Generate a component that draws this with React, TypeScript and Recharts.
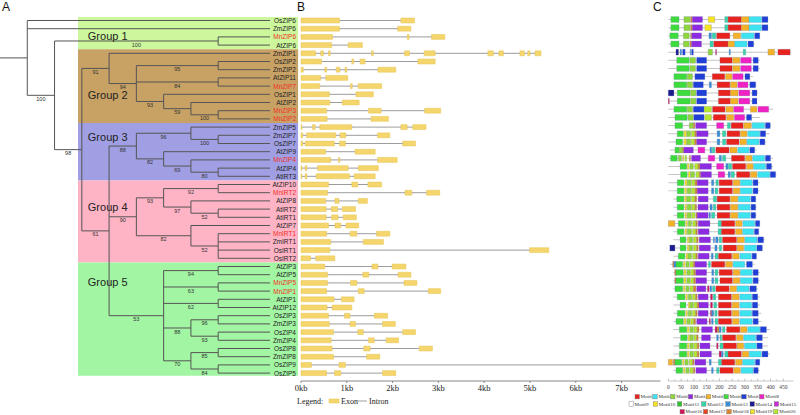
import React from "react";
import { ComposedChart, XAxis, YAxis, ReferenceArea, ReferenceLine, ReferenceDot } from "recharts";

// leaf order, top to bottom
const genes = [
  "OsZIP6", "ZmZIP6", "MnZIP6", "AtZIP6",
  "ZmZIP1", "OsZIP2", "ZmZIP2", "AtZIP11", "MnZIP7", "OsZIP1", "AtZIP2", "MnZIP3", "MnZIP2",
  "ZmZIP5", "ZmZIP7", "OsZIP7", "AtZIP9", "MnZIP4", "AtZIP4", "AtIRT3",
  "AtZIP10", "MnIRT2", "AtZIP8", "AtIRT2", "AtIRT1", "AtZIP7", "MnIRT1", "ZmIRT1", "OsIRT1", "OsIRT2",
  "AtZIP3", "AtZIP5", "MnZIP5", "MnZIP1", "AtZIP1", "AtZIP12", "OsZIP3", "ZmZIP3", "OsZIP4", "ZmZIP4",
  "OsZIP8", "ZmZIP8", "OsZIP9", "OsZIP5",
];

const groupNames = ["Group 1", "Group 2", "Group 3", "Group 4", "Group 5"];
const groupRows = [[0, 3], [4, 12], [13, 19], [20, 29], [30, 43]];

// d = node depth (cladogram level), s = bootstrap support
type TreeNode = { d: number; s?: number; c: (TreeNode | string)[] };
const tree: TreeNode = {
  d: 1,
  c: [
    "OsZIP6",
    "ZmZIP6",
    {
      d: 2, s: 100, c: [
        { d: 8, s: 100, c: ["MnZIP6", "AtZIP6"] },
        {
          d: 3, s: 98, c: [
            {
              d: 4, s: 91, c: [
                "ZmZIP1",
                {
                  d: 5, s: 94, c: [
                    { d: 8, s: 95, c: ["OsZIP2", "ZmZIP2"] },
                    { d: 8, s: 84, c: ["AtZIP11", "MnZIP7"] },
                    { d: 6, s: 93, c: ["OsZIP1", { d: 7, s: 59, c: ["AtZIP2", { d: 8, s: 100, c: ["MnZIP3", "MnZIP2"] }] }] },
                  ],
                },
              ],
            },
            {
              d: 4, s: 61, c: [
                {
                  d: 5, s: 88, c: [
                    { d: 7, s: 96, c: ["ZmZIP5", { d: 8, s: 100, c: ["ZmZIP7", "OsZIP7"] }] },
                    { d: 6, s: 82, c: ["AtZIP9", { d: 7, s: 69, c: ["MnZIP4", { d: 8, s: 80, c: ["AtZIP4", "AtIRT3"] }] }] },
                  ],
                },
                {
                  d: 5, s: 90, c: [
                    {
                      d: 6, s: 93, c: [
                        { d: 8, s: 92, c: ["AtZIP10", "MnIRT2"] },
                        { d: 7, s: 97, c: ["AtZIP8", { d: 8, s: 52, c: ["AtIRT2", "AtIRT1"] }] },
                      ],
                    },
                    { d: 7, s: 82, c: ["AtZIP7", { d: 8, s: 52, c: ["MnIRT1", "ZmIRT1", "OsIRT1", "OsIRT2"] }] },
                  ],
                },
                {
                  d: 6, s: 53, c: [
                    { d: 8, s: 94, c: ["AtZIP3", "AtZIP5"] },
                    { d: 8, s: 63, c: ["MnZIP5", "MnZIP1"] },
                    { d: 8, s: 62, c: ["AtZIP1", "AtZIP12"] },
                    { d: 7, s: 88, c: [{ d: 8, s: 96, c: ["OsZIP3", "ZmZIP3"] }, { d: 8, s: 93, c: ["OsZIP4", "ZmZIP4"] }] },
                    { d: 7, s: 70, c: [{ d: 8, s: 85, c: ["OsZIP8", "ZmZIP8"] }, { d: 8, s: 84, c: ["OsZIP9", "OsZIP5"] }] },
                  ],
                },
              ],
            },
          ],
        },
      ],
    },
  ],
};

// exon [start, end] in kb, one list per gene
const exons: number[][][] = [
  [[0, 0.84], [2.18, 2.48]],
  [[0, 0.84], [2.11, 2.4]],
  [[0, 0.69], [2.32, 2.36], [2.85, 3.14]],
  [[0, 0.67], [1.03, 1.34]],
  [[0, 0.32], [0.43, 0.49], [0.6, 0.64], [1.54, 1.58], [2.26, 2.37], [2.69, 2.93], [4.08, 4.2], [4.32, 4.42], [4.78, 4.88], [4.95, 5.0], [5.11, 5.24]],
  [[0, 0.45], [1.11, 1.15], [1.29, 1.4], [2.55, 2.93]],
  [[0, 0.05], [0.52, 0.56], [0.77, 0.85], [0.96, 1.0], [1.68, 2.07]],
  [[0, 0.43], [0.54, 1.02]],
  [[0, 0.41], [1.08, 1.12], [1.25, 1.76]],
  [[0, 0.62], [1.2, 1.58]],
  [[0, 0.63], [0.9, 1.27]],
  [[0, 0.56], [1.47, 1.75], [2.7, 3.05]],
  [[0, 0.57], [1.53, 1.91]],
  [[0, 0.02], [0.25, 0.31], [0.41, 1.11], [2.18, 2.32], [2.44, 2.73]],
  [[0, 0.04], [0.12, 0.76], [0.85, 0.98], [1.67, 1.94]],
  [[0, 0.04], [0.09, 0.73], [0.84, 0.97], [2.22, 2.5]],
  [[0, 0.54], [1.18, 1.62]],
  [[0, 0.65], [0.82, 0.85], [1.67, 2.1]],
  [[0, 0.02], [0.09, 0.13], [0.36, 1.03], [1.25, 1.69]],
  [[0, 0.02], [0.09, 0.13], [0.33, 1.06], [1.16, 1.62]],
  [[0, 0.6], [1.11, 1.24], [1.46, 1.76]],
  [[0, 0.58], [2.27, 2.42], [2.74, 3.03]],
  [[0, 0.54], [0.74, 0.83], [1.25, 1.45]],
  [[0, 0.55], [0.66, 0.8], [0.9, 1.19]],
  [[0, 0.55], [0.67, 0.81], [0.92, 1.21]],
  [[0, 0.6], [0.74, 0.87], [0.98, 1.26]],
  [[0, 0.56], [1.07, 1.22], [1.65, 1.94]],
  [[0, 0.65], [1.36, 1.8]],
  [[0, 0.63], [4.99, 5.41]],
  [[0, 0.21], [0.32, 0.74]],
  [[0, 0.52], [1.55, 1.68], [1.99, 2.29]],
  [[0, 0.58], [1.35, 1.48], [2.12, 2.4]],
  [[0, 0.58], [1.08, 1.22], [2.25, 2.53]],
  [[0, 0.56], [1.25, 1.38], [2.78, 3.05]],
  [[0, 0.72], [0.88, 1.16]],
  [[0, 0.57], [0.68, 1.11]],
  [[0, 0.6], [0.95, 1.07], [1.6, 1.89]],
  [[0, 0.62], [1.07, 1.19], [1.78, 2.06]],
  [[0, 0.71], [1.24, 1.36], [2.22, 2.5]],
  [[0, 0.66], [1.47, 1.6], [1.86, 2.13]],
  [[0, 0.68], [1.37, 1.51], [2.58, 2.87]],
  [[0, 0.71], [1.43, 1.72]],
  [[0, 0.23], [0.83, 0.97], [7.45, 7.75]],
  [[0, 0.56], [0.73, 0.87], [1.78, 2.07]],
];
const kbTicks = [0, 1, 2, 3, 4, 5, 6, 7];

// protein extent shown in panel C (aa)
const proteinSpans = [
  [0, 390], [0, 390], [0, 358], [0, 338],
  [0, 481], [0, 358], [0, 358], [20, 332], [20, 345], [0, 351], [0, 345], [0, 410], [0, 358],
  [0, 403], [0, 397], [0, 384], [6, 345], [0, 410], [0, 410], [0, 423],
  [0, 358], [0, 358], [20, 345], [20, 345], [20, 345], [0, 358], [20, 351], [20, 377], [6, 371], [20, 345],
  [6, 338], [20, 358], [20, 358], [20, 351], [20, 358], [20, 358], [20, 364], [20, 364], [20, 397], [20, 390],
  [20, 390], [20, 397], [0, 358], [20, 358],
];

// [motif, start, end] in aa
const motifs: number[][][] = [
  [[6, 10, 42], [3, 61, 85], [18, 87, 94], [4, 94, 134], [10, 156, 182], [12, 221, 233], [1, 234, 286], [5, 286, 316], [2, 316, 365], [7, 367, 390]],
  [[6, 10, 42], [3, 61, 85], [18, 87, 94], [4, 94, 134], [10, 143, 169], [12, 221, 233], [1, 234, 286], [5, 286, 316], [2, 316, 365], [7, 367, 390]],
  [[6, 6, 39], [3, 59, 82], [18, 87, 92], [4, 92, 130], [13, 159, 169], [12, 172, 186], [1, 189, 241], [5, 254, 283], [2, 286, 335], [7, 338, 358]],
  [[6, 10, 42], [3, 59, 82], [18, 85, 91], [4, 91, 130], [12, 163, 176], [1, 178, 234], [5, 234, 260], [2, 260, 308], [7, 312, 334]],
  [[14, 30, 40], [13, 46, 52], [7, 56, 66], [13, 85, 88], [7, 91, 98], [3, 156, 173], [16, 185, 189], [13, 238, 243], [12, 293, 303], [5, 390, 416], [1, 429, 477]],
  [[6, 33, 82], [3, 85, 107], [7, 111, 150], [1, 202, 250], [5, 252, 280], [8, 283, 325], [7, 332, 352]],
  [[6, 33, 82], [3, 85, 107], [7, 111, 150], [1, 202, 250], [5, 252, 280], [8, 283, 325], [7, 332, 352]],
  [[6, 22, 72], [3, 74, 95], [7, 104, 143], [1, 172, 221], [5, 224, 250], [8, 252, 293], [7, 300, 319]],
  [[6, 22, 72], [3, 74, 95], [7, 98, 137], [13, 160, 169], [1, 191, 241], [5, 243, 269], [8, 272, 312], [7, 319, 342]],
  [[14, 0, 22], [6, 35, 85], [3, 87, 108], [7, 111, 150], [1, 196, 243], [5, 243, 273], [8, 276, 319], [7, 328, 347]],
  [[16, 0, 4], [6, 35, 85], [3, 87, 108], [7, 111, 150], [1, 196, 243], [5, 243, 273], [8, 276, 319], [7, 328, 347]],
  [[6, 22, 72], [3, 74, 95], [7, 98, 140], [20, 140, 169], [1, 173, 222], [5, 225, 254], [8, 256, 295], [5, 321, 347], [8, 351, 393]],
  [[6, 26, 74], [3, 77, 98], [7, 100, 140], [20, 143, 169], [1, 176, 225], [5, 228, 256], [8, 259, 299], [7, 306, 326]],
  [[6, 26, 56], [3, 82, 98], [18, 98, 104], [4, 107, 150], [8, 189, 217], [12, 231, 243], [1, 246, 293], [5, 295, 325], [2, 328, 377], [7, 380, 399]],
  [[6, 35, 59], [19, 61, 72], [3, 72, 87], [20, 90, 104], [18, 104, 111], [4, 111, 156], [13, 191, 202], [12, 212, 225], [1, 230, 280], [5, 282, 308], [2, 311, 358], [7, 360, 381]],
  [[6, 30, 56], [19, 61, 72], [3, 72, 87], [20, 90, 103], [18, 103, 111], [4, 111, 150], [13, 191, 202], [12, 212, 225], [1, 228, 277], [5, 280, 306], [2, 308, 355], [7, 358, 378]],
  [[6, 26, 43], [3, 43, 56], [18, 56, 61], [4, 61, 98], [8, 116, 143], [13, 163, 170], [12, 172, 182], [1, 186, 238], [5, 241, 269], [2, 272, 316], [7, 319, 338]],
  [[6, 9, 35], [3, 39, 52], [19, 56, 61], [20, 65, 72], [18, 82, 87], [4, 91, 126], [8, 156, 182], [13, 199, 208], [12, 212, 225], [1, 247, 299], [5, 302, 328], [2, 330, 377], [7, 380, 400]],
  [[6, 46, 72], [19, 74, 82], [3, 85, 98], [20, 103, 117], [18, 117, 124], [4, 124, 169], [8, 189, 217], [13, 225, 234], [12, 235, 248], [1, 251, 303], [5, 306, 332], [2, 334, 381], [7, 384, 404]],
  [[6, 48, 74], [19, 78, 87], [3, 87, 103], [20, 108, 121], [18, 121, 127], [4, 127, 169], [8, 195, 221], [13, 234, 243], [12, 246, 259], [1, 267, 319], [5, 321, 347], [2, 350, 397], [7, 399, 420]],
  [[6, 35, 61], [19, 65, 74], [3, 74, 90], [20, 92, 105], [18, 105, 113], [4, 113, 156], [13, 169, 178], [12, 186, 196], [1, 199, 251], [5, 254, 280], [2, 282, 329], [7, 332, 351]],
  [[6, 35, 61], [19, 64, 72], [3, 74, 90], [20, 92, 105], [18, 105, 113], [4, 113, 156], [13, 169, 178], [12, 183, 194], [1, 199, 251], [5, 254, 280], [2, 282, 329], [7, 332, 351]],
  [[6, 33, 61], [19, 64, 72], [3, 72, 88], [20, 91, 104], [18, 104, 111], [4, 117, 156], [12, 176, 189], [1, 191, 241], [5, 243, 272], [2, 274, 321], [7, 324, 342]],
  [[6, 35, 61], [19, 65, 72], [3, 74, 90], [20, 92, 105], [18, 105, 111], [4, 116, 156], [13, 163, 172], [12, 176, 186], [1, 191, 241], [5, 243, 272], [2, 274, 321], [7, 324, 342]],
  [[6, 35, 61], [19, 65, 72], [3, 74, 90], [20, 92, 105], [18, 108, 113], [4, 113, 156], [13, 159, 165], [12, 169, 182], [1, 191, 241], [5, 243, 272], [2, 274, 321], [7, 324, 342]],
  [[5, 0, 26], [6, 39, 65], [19, 68, 75], [3, 78, 91], [20, 95, 108], [18, 108, 114], [4, 117, 163], [12, 195, 208], [1, 208, 260], [5, 263, 289], [2, 292, 338], [7, 341, 358]],
  [[6, 35, 61], [19, 65, 72], [3, 74, 91], [20, 95, 108], [18, 108, 114], [4, 117, 160], [12, 195, 208], [1, 208, 260], [5, 263, 289], [2, 291, 334], [7, 337, 354]],
  [[6, 46, 69], [19, 74, 82], [3, 82, 95], [20, 98, 111], [18, 111, 117], [4, 121, 165], [13, 176, 181], [13, 185, 195], [12, 199, 209], [1, 212, 267], [5, 269, 298], [2, 300, 347], [7, 350, 373]],
  [[14, 6, 26], [6, 46, 69], [19, 74, 82], [3, 82, 95], [20, 98, 111], [18, 111, 117], [4, 121, 165], [13, 182, 191], [12, 199, 209], [1, 215, 267], [5, 269, 295], [2, 298, 345], [7, 347, 368]],
  [[6, 39, 65], [19, 69, 77], [3, 77, 91], [20, 95, 108], [18, 108, 114], [4, 117, 160], [13, 168, 176], [12, 183, 194], [1, 196, 248], [5, 251, 277], [2, 280, 325], [7, 328, 345]],
  [[18, 17, 22], [13, 22, 30], [6, 30, 56], [19, 59, 66], [3, 69, 82], [20, 85, 98], [18, 98, 104], [4, 104, 150], [12, 157, 165], [1, 169, 221], [5, 224, 251], [2, 254, 299], [7, 306, 329]],
  [[18, 25, 30], [6, 30, 59], [19, 61, 69], [3, 72, 85], [20, 87, 100], [18, 100, 107], [4, 108, 150], [13, 170, 178], [12, 183, 194], [1, 199, 251], [5, 254, 280], [2, 282, 329], [7, 332, 352]],
  [[18, 25, 30], [6, 30, 59], [19, 61, 69], [3, 72, 85], [20, 87, 100], [18, 100, 107], [4, 108, 150], [13, 170, 178], [12, 183, 194], [1, 202, 251], [5, 254, 280], [2, 282, 329], [7, 332, 352]],
  [[6, 26, 56], [19, 59, 66], [3, 69, 82], [20, 85, 98], [18, 98, 108], [4, 111, 147], [16, 153, 160], [13, 163, 170], [12, 173, 183], [1, 186, 238], [5, 241, 267], [2, 269, 316], [7, 319, 345]],
  [[6, 35, 65], [19, 68, 75], [3, 78, 91], [20, 94, 107], [18, 107, 113], [4, 117, 156], [16, 165, 173], [12, 176, 186], [1, 196, 247], [5, 250, 277], [2, 280, 326], [7, 329, 350]],
  [[6, 46, 69], [19, 78, 85], [3, 85, 98], [20, 100, 113], [18, 113, 120], [4, 120, 157], [16, 165, 173], [12, 178, 189], [1, 196, 247], [5, 250, 277], [2, 280, 326], [7, 329, 350]],
  [[6, 35, 65], [19, 68, 75], [3, 78, 91], [20, 94, 107], [18, 107, 113], [4, 117, 156], [16, 165, 170], [13, 170, 178], [12, 182, 191], [1, 196, 247], [5, 250, 277], [2, 280, 326], [7, 329, 352]],
  [[6, 30, 59], [19, 61, 69], [3, 72, 85], [20, 87, 100], [18, 100, 107], [4, 111, 152], [16, 160, 165], [13, 169, 176], [12, 183, 194], [1, 196, 248], [5, 251, 277], [2, 280, 329], [7, 332, 352]],
  [[6, 43, 72], [19, 74, 82], [3, 85, 98], [20, 100, 113], [18, 113, 120], [4, 130, 173], [16, 183, 191], [18, 191, 199], [13, 199, 207], [12, 212, 222], [1, 228, 280], [5, 282, 308], [2, 311, 358], [7, 360, 384]],
  [[6, 48, 74], [19, 77, 85], [3, 85, 98], [20, 100, 111], [18, 111, 117], [4, 130, 165], [13, 189, 196], [12, 202, 209], [1, 212, 264], [5, 267, 293], [2, 295, 342], [7, 345, 368]],
  [[6, 43, 72], [19, 74, 82], [3, 85, 98], [20, 100, 113], [18, 113, 120], [4, 124, 163], [16, 189, 195], [12, 202, 215], [1, 215, 267], [5, 269, 295], [2, 298, 345], [7, 347, 368]],
  [[6, 43, 72], [19, 74, 82], [3, 85, 98], [20, 100, 113], [18, 113, 120], [4, 124, 169], [16, 199, 208], [13, 208, 215], [12, 221, 234], [1, 234, 286], [5, 289, 315], [2, 317, 364], [7, 367, 390]],
  [[5, 0, 17], [18, 20, 26], [6, 26, 52], [19, 55, 62], [3, 65, 78], [20, 82, 95], [18, 95, 101], [4, 104, 147], [13, 160, 168], [12, 196, 209], [1, 209, 260], [5, 263, 289], [2, 291, 338], [7, 341, 358]],
  [[6, 30, 56], [19, 59, 66], [3, 69, 82], [20, 85, 98], [18, 98, 104], [4, 108, 150], [13, 169, 176], [12, 189, 199], [1, 202, 254], [5, 256, 282], [2, 285, 332], [7, 334, 352]],
];
const aaTicks = [0, 25, 50, 75, 100, 125, 150, 175, 200, 225, 250, 275, 300, 325, 350, 375, 400, 425, 450];
const legendRows = [[1, 2, 3, 4, 5, 6, 7, 8], [9, 10, 11, 12, 13, 14, 15], [16, 17, 18, 19, 20]];

const motifColors: Record<number, string> = {
  1: "#e8231e", 2: "#3de3ef", 3: "#8fd63c", 4: "#8c2be0", 5: "#f3b228",
  6: "#3ddc3d", 7: "#1f3fd6", 8: "#ef22c4", 9: "#ffffff", 10: "#f7e224",
  11: "#30c030", 12: "#36d4a6", 13: "#3a8ed6", 14: "#1b1b8f", 15: "#c72ed6",
  16: "#d0145a", 17: "#e8421c", 18: "#d88430", 19: "#f2e030", 20: "#b6e630",
};
const groupColors = ["#ccf79c", "#c8a165", "#a09fe3", "#ffb4c6", "#a2f5a2"];
const groupLabelRows = [1.85, 9.1, 14.2, 22.7, 31.9];

const SANS = "Arial, 'Liberation Sans', sans-serif";
const SERIF = "'Times New Roman', 'Liberation Serif', serif";
const LEAF_D = 9.9;

function layoutTree(root: TreeNode) {
  const lines: { x1: number; y1: number; x2: number; y2: number }[] = [];
  const labels: { x: number; y: number; s: number }[] = [];
  const place = (n: TreeNode | string): { y: number; d: number } => {
    if (typeof n === "string") return { y: genes.indexOf(n), d: LEAF_D };
    const kids = n.c.map(place);
    const top = kids[0].y;
    const bottom = kids[kids.length - 1].y;
    lines.push({ x1: n.d, y1: top, x2: n.d, y2: bottom });
    kids.forEach((k, i) => {
      lines.push({ x1: n.d, y1: k.y, x2: k.d, y2: k.y });
      const child = n.c[i];
      if (typeof child !== "string" && child.s != null) labels.push({ x: (n.d + k.d) / 2, y: k.y, s: child.s });
    });
    return { y: (top + bottom) / 2, d: n.d };
  };
  const r = place(root);
  lines.push({ x1: 0, y1: r.y, x2: root.d, y2: r.y });
  return { lines, labels };
}

function TreePanel() {
  const { lines, labels } = React.useMemo(() => layoutTree(tree), []);
  return (
    <ComposedChart width={300} height={415} margin={{ top: 0, right: 0, bottom: 0, left: 0 }}>
      <XAxis type="number" dataKey="x" hide domain={[0, 11]} allowDataOverflow />
      <YAxis type="number" dataKey="y" hide domain={[-2.5, 48.11]} reversed allowDataOverflow />
      {groupRows.map(([from, to], i) => (
        <ReferenceArea
          key={`g${i}`}
          x1={2.86}
          x2={10.93}
          y1={i === 0 ? from - 0.43 : from - 0.5}
          y2={i === groupRows.length - 1 ? to + 0.32 : to + 0.5}
          fill={groupColors[i]}
          fillOpacity={1}
          stroke="none"
          ifOverflow="visible"
        />
      ))}
      {groupNames.map((g, i) => (
        <ReferenceDot
          key={`gl${i}`}
          x={3.22}
          y={groupLabelRows[i]}
          r={0}
          shape={(p: any) => (
            <text x={p.cx} y={p.cy} dominantBaseline="central" fontSize={11} fontFamily={SANS} fill="#222">
              {g}
            </text>
          )}
        />
      ))}
      {lines.map((l, i) => (
        <ReferenceLine
          key={`b${i}`}
          segment={[{ x: l.x1, y: l.y1 }, { x: l.x2, y: l.y2 }]}
          stroke="#555"
          strokeWidth={1}
          ifOverflow="visible"
        />
      ))}
      {labels.map((l, i) => (
        <ReferenceDot
          key={`s${i}`}
          x={l.x}
          y={l.y}
          r={0}
          shape={(p: any) => (
            <text x={p.cx} y={p.cy + 5.6} textAnchor="middle" fontSize={5.5} fontFamily={SANS} fill="#333">
              {l.s}
            </text>
          )}
        />
      ))}
      {genes.map((g, i) => (
        <ReferenceDot
          key={`n${g}`}
          x={LEAF_D}
          y={i}
          r={0}
          shape={(p: any) => (
            <text
              x={p.cx + 26}
              y={p.cy}
              textAnchor="end"
              dominantBaseline="central"
              fontSize={6.5}
              fontFamily={SANS}
              fill={g.startsWith("Mn") ? "#f0301f" : "#222"}
            >
              {g}
            </text>
          )}
        />
      ))}
    </ComposedChart>
  );
}

const KbTick = (p: any) => (
  <text x={p.x} y={p.y + 7} textAnchor="middle" fontSize={8.5} fontFamily={SERIF} fill="#222">
    {`${p.payload.value}kb`}
  </text>
);

function GenePanel() {
  return (
    <ComposedChart width={380} height={415} margin={{ top: 0, right: 9.5, bottom: 0, left: 11 }}>
      <XAxis
        type="number"
        dataKey="x"
        domain={[0, 7.85]}
        ticks={kbTicks}
        interval={0}
        height={34}
        tickSize={2}
        tickMargin={1}
        axisLine={{ stroke: "#888" }}
        tickLine={{ stroke: "#888" }}
        tick={<KbTick />}
        allowDataOverflow
      />
      <YAxis type="number" dataKey="y" hide domain={[-2.5, 43.96]} reversed allowDataOverflow />
      {exons.map((ex, i) =>
        ex.slice(1).map((e, k) => (
          <ReferenceLine
            key={`i${i}-${k}`}
            segment={[{ x: ex[k][1], y: i }, { x: e[0], y: i }]}
            stroke="#9c9c9c"
            strokeWidth={1}
          />
        ))
      )}
      {exons.map((ex, i) =>
        ex.map((e, k) => (
          <ReferenceArea
            key={`e${i}-${k}`}
            x1={e[0]}
            x2={e[1]}
            y1={i - 0.3}
            y2={i + 0.3}
            fill="#f5d66c"
            fillOpacity={1}
            stroke="#e7c452"
            strokeWidth={0.5}
          />
        ))
      )}
    </ComposedChart>
  );
}

const AaTick = (p: any) => {
  const v = p.payload.value;
  const major = v % 50 === 0;
  return (
    <g>
      <line x1={p.x} x2={p.x} y1={p.y - (major ? 2.5 : 1.5)} y2={p.y} stroke="#999" strokeWidth={0.6} />
      {major && (
        <text x={p.x} y={p.y + 7.6} textAnchor="middle" fontSize={5.5} fontFamily={SERIF} fill="#444">
          {v}
        </text>
      )}
    </g>
  );
};

function MotifPanel() {
  return (
    <ComposedChart width={140} height={415} margin={{ top: 0, right: 6.5, bottom: 0, left: 8.3 }}>
      <XAxis
        type="number"
        dataKey="x"
        domain={[0, 490]}
        ticks={aaTicks}
        interval={0}
        height={34}
        tickSize={0}
        tickMargin={0}
        axisLine={{ stroke: "#c8c8c8" }}
        tickLine={false}
        tick={<AaTick />}
        allowDataOverflow
      />
      <YAxis type="number" dataKey="y" hide domain={[-2.39, 44.3]} reversed allowDataOverflow />
      {proteinSpans.map((s, i) => (
        <ReferenceArea key={`p${i}`} x1={s[0]} x2={s[1]} y1={i - 0.06} y2={i + 0.06} fill="#c4c4c4" fillOpacity={1} stroke="none" />
      ))}
      {motifs.map((row, i) =>
        row.map((m, k) => (
          <ReferenceArea
            key={`m${i}-${k}`}
            x1={m[1]}
            x2={m[2]}
            y1={i - 0.36}
            y2={i + 0.36}
            fill={motifColors[m[0]]}
            fillOpacity={1}
            stroke="#6a78a8"
            strokeOpacity={0.45}
            strokeWidth={0.5}
          />
        ))
      )}
    </ComposedChart>
  );
}

export default function App() {
  // legend rows: [start x, step, y]
  const legendLayout = [[635, 17.8, 396.7], [629, 24.2, 404], [680, 23.4, 411.7]];
  return (
    <div style={{ position: "absolute", left: 0, top: 0, width: 800, height: 415, background: "#fff", overflow: "hidden" }}>
      <div style={{ position: "absolute", left: 0, top: 0 }}>
        <TreePanel />
      </div>
      <div style={{ position: "absolute", left: 290, top: 0 }}>
        <GenePanel />
      </div>
      <div style={{ position: "absolute", left: 660, top: 0 }}>
        <MotifPanel />
      </div>
      <svg width={800} height={415} style={{ position: "absolute", left: 0, top: 0, pointerEvents: "none" }}>
        <text x={2} y={11} fontSize={12} fontFamily={SANS} fill="#111">A</text>
        <text x={297} y={11} fontSize={12} fontFamily={SANS} fill="#111">B</text>
        <text x={653} y={11} fontSize={12} fontFamily={SANS} fill="#111">C</text>

        <text x={297} y={403.5} fontSize={8} fontFamily={SERIF} fill="#222">Legend:</text>
        <rect x={329} y={399} width={10} height={4} fill="#f5d66c" stroke="#e7c452" strokeWidth={0.5} />
        <text x={341} y={403.5} fontSize={8} fontFamily={SERIF} fill="#222">Exon</text>
        <line x1={356} x2={367} y1={401} y2={401} stroke="#9c9c9c" strokeWidth={1} />
        <text x={369} y={403.5} fontSize={8} fontFamily={SERIF} fill="#222">Intron</text>

        {legendRows.map((row, r) =>
          row.map((m, k) => {
            const [x0, step, y] = legendLayout[r];
            const x = x0 + k * step;
            return (
              <g key={`lg${m}`}>
                <rect x={x} y={y - 2.2} width={4.4} height={4.4} fill={motifColors[m]} stroke="#777" strokeWidth={0.4} />
                <text x={x + 5.6} y={y + 1.7} fontSize={5} fontFamily={SERIF} fill="#333">{`Motif${m}`}</text>
              </g>
            );
          })
        )}
      </svg>
    </div>
  );
}
